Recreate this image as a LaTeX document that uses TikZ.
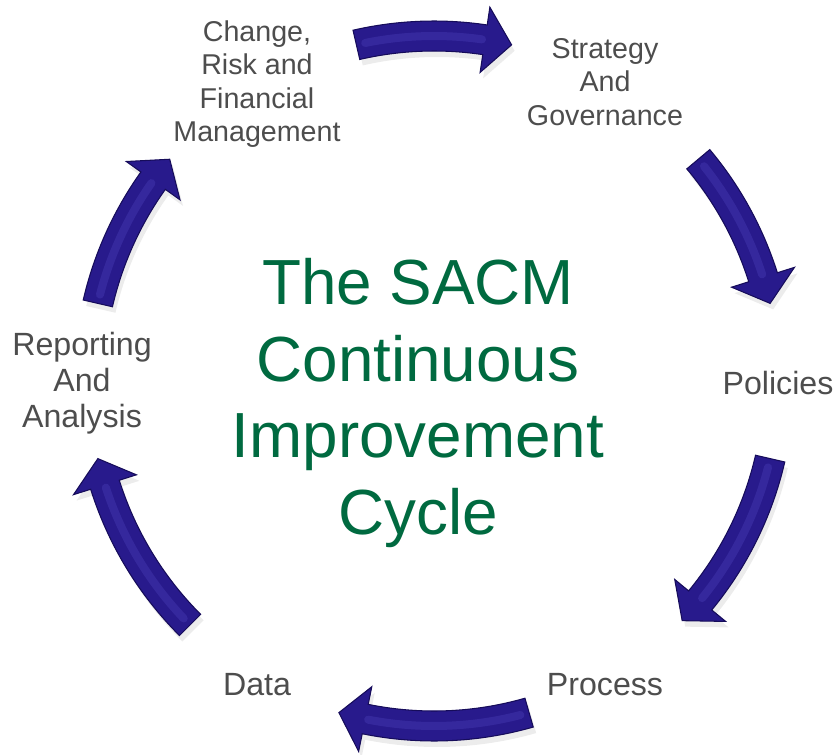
\documentclass[tikz,border=0pt]{standalone}
\usepackage{fontspec}
\setmainfont{Liberation Sans}
\usetikzlibrary{shadows}

\definecolor{cyclegreen}{RGB}{0,106,64}
\definecolor{labelgrey}{RGB}{77,77,77}
\definecolor{arrowblue}{RGB}{40,26,140}
\definecolor{arrowdark}{RGB}{22,12,90}
\definecolor{arrowlight}{RGB}{80,68,190}

\tikzset{
    cyclelabel/.style={align=center, text=labelgrey, font=\fontsize{18.3}{20.4}\selectfont},
    smalllabel/.style={cyclelabel, font=\fontsize{16.3}{19}\selectfont},
    cycletitle/.style={align=center, text=cyclegreen, font=\fontsize{36.3}{43.7}\selectfont},
    blockarrow/.style={fill=arrowblue, draw=arrowdark, line width=0.6pt,
        drop shadow={opacity=0.15, shadow xshift=0.06cm, shadow yshift=-0.12cm}},
    arrowshine/.style={draw=arrowlight, opacity=0.35, line width=0.16cm, line cap=round}
}

% curved block arrow on the cycle: #1 = tail angle, #2 = tip angle
\newcommand{\cyclearrow}[2]{%
    \path[blockarrow] (#1:360) arc[start angle=#1, end angle=#2+4.5, radius=360]
        -- ({#2+4.5}:378) -- (#2:345) -- ({#2+4.5}:312)
        -- ({#2+4.5}:330) arc[start angle=#2+4.5, end angle=#1, radius=330] -- cycle;
    \draw[arrowshine] ({#1-1.5}:345) arc[start angle=#1-1.5, end angle=#2+5, radius=345];
}

\begin{document}
\begin{tikzpicture}[x=0.02cm, y=0.02cm]
    \useasboundingbox (-434,-373) rectangle (401,381);

    \node (cycle) [cycletitle] at (-16,-22) {The SACM\\Continuous\\Improvement\\Cycle};

    \node (strategy) [smalllabel] at (171,299) {Strategy\\And\\Governance};
    \node (policies) [cyclelabel] at (344,-2) {Policies};
    \node (process) [cyclelabel] at (171,-304) {Process};
    \node (data) [cyclelabel] at (-177,-304) {Data};
    \node (reporting) [cyclelabel] at (-352,-2) {Reporting\\And\\Analysis};
    \node (change) [smalllabel] at (-177,297) {Change,\\Risk and\\Financial\\Management};

    \cyclearrow{103}{77}
    \cyclearrow{40}{13}
    \cyclearrow{-13}{-44}
    \cyclearrow{-74}{-106}
    \cyclearrow{225}{193}
    \cyclearrow{167}{140}
\end{tikzpicture}
\end{document}
